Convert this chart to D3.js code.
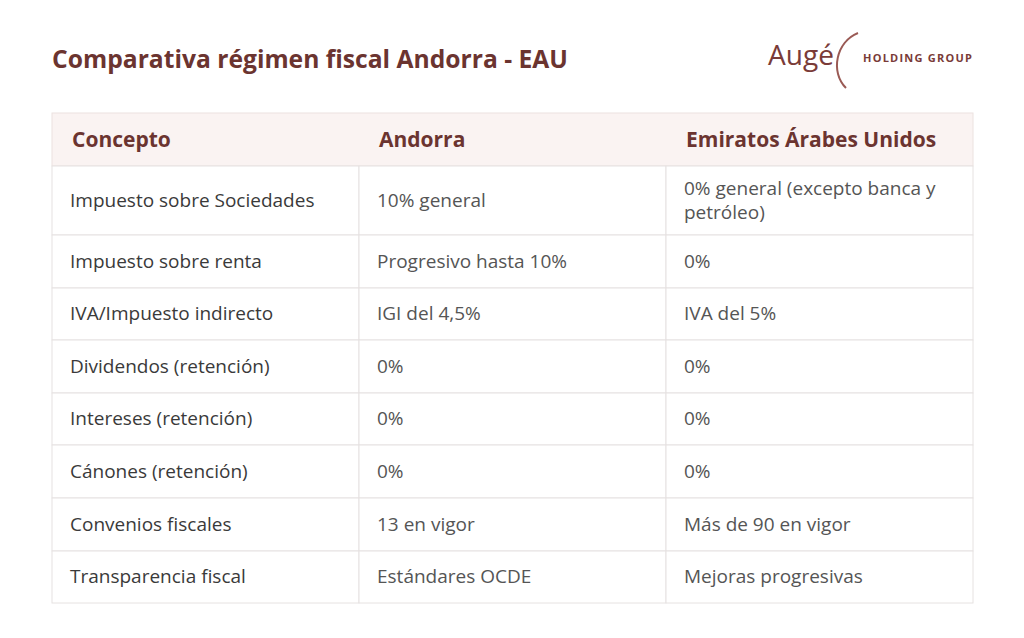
<!DOCTYPE html>
<html>
<head>
<script src="https://d3js.org/d3.v7.min.js"></script>
<style>
body { margin: 0; background: #fff; }
</style>
</head>
<body>
<script>
var columns = ["Concepto", "Andorra", "Emiratos Árabes Unidos"];
var concepts = ["Impuesto sobre Sociedades", "Impuesto sobre renta", "IVA/Impuesto indirecto",
  "Dividendos (retención)", "Intereses (retención)", "Cánones (retención)",
  "Convenios fiscales", "Transparencia fiscal"];
var andorra = ["10% general", "Progresivo hasta 10%", "IGI del 4,5%", "0%", "0%", "0%",
  "13 en vigor", "Estándares OCDE"];
var eau = [["0% general (excepto banca y", "petróleo)"], "0%", "IVA del 5%", "0%", "0%", "0%",
  "Más de 90 en vigor", "Mejoras progresivas"];

var w = 1024, h = 638;
var font = "'Open Sans', sans-serif";
var dark = "#6b3430";
var svg = d3.select("body").append("svg").attr("width", w).attr("height", h)
  .style("font-family", font);

svg.append("text").attr("x", 52).attr("y", 68).attr("font-size", 25).attr("font-weight", 700)
  .attr("fill", dark).attr("textLength", 516).attr("lengthAdjust", "spacingAndGlyphs")
  .text("Comparativa régimen fiscal Andorra - EAU");

// logo
var logo = svg.append("g");
logo.append("text").attr("x", 768).attr("y", 65).attr("font-size", 27).attr("fill", "#7a3b38")
  .attr("textLength", 66).attr("lengthAdjust", "spacingAndGlyphs").text("Augé");
logo.append("path").attr("d", "M858,33 C836,42 830,72 846,88").attr("fill", "none")
  .attr("stroke", "#9a5a55").attr("stroke-width", 2);
logo.append("text").attr("x", 863).attr("y", 62).attr("font-size", 11).attr("font-weight", 700)
  .attr("textLength", 109).attr("fill", "#7a3b38").text("HOLDING GROUP");

var x0 = 52, x1 = 973;
var colX = d3.scaleOrdinal().domain(columns).range([52, 359, 666]);
var rowEdges = [166, 235, 288, 340, 393, 445, 498, 551, 603];
var y = d3.scaleOrdinal().domain(concepts).range(rowEdges.slice(0, -1));
var rowH = function (i) { return rowEdges[i + 1] - rowEdges[i]; };

// header
svg.append("rect").attr("x", x0).attr("y", 113).attr("width", x1 - x0).attr("height", 53)
  .attr("fill", "#faf3f2").attr("stroke", "#ece2e0");
svg.selectAll(".hd").data(columns).enter().append("text")
  .attr("x", function (d) { return colX(d) + 20; })
  .attr("y", 147).attr("font-size", 21).attr("font-weight", 700).attr("fill", dark)
  .text(function (d) { return d; });

// body cells
var rows = concepts.map(function (c, i) { return [c, andorra[i], eau[i]]; });
rows.forEach(function (r, i) {
  var top = y(concepts[i]);
  r.forEach(function (v, j) {
    var cx = colX(columns[j]);
    var cw = (j < 2 ? colX(columns[j + 1]) : x1) - cx;
    svg.append("rect").attr("x", cx).attr("y", top).attr("width", cw).attr("height", rowH(i))
      .attr("fill", "#fff").attr("stroke", "#e6e2e1");
    var lines = Array.isArray(v) ? v : [v];
    var mid = top + rowH(i) / 2 + 6 - (lines.length - 1) * 12;
    lines.forEach(function (l, k) {
      svg.append("text").attr("x", cx + 18).attr("y", mid + k * 24)
        .attr("font-size", 19).attr("fill", j === 0 ? "#3a3a3a" : "#555").text(l);
    });
  });
});
</script>
</body>
</html>
